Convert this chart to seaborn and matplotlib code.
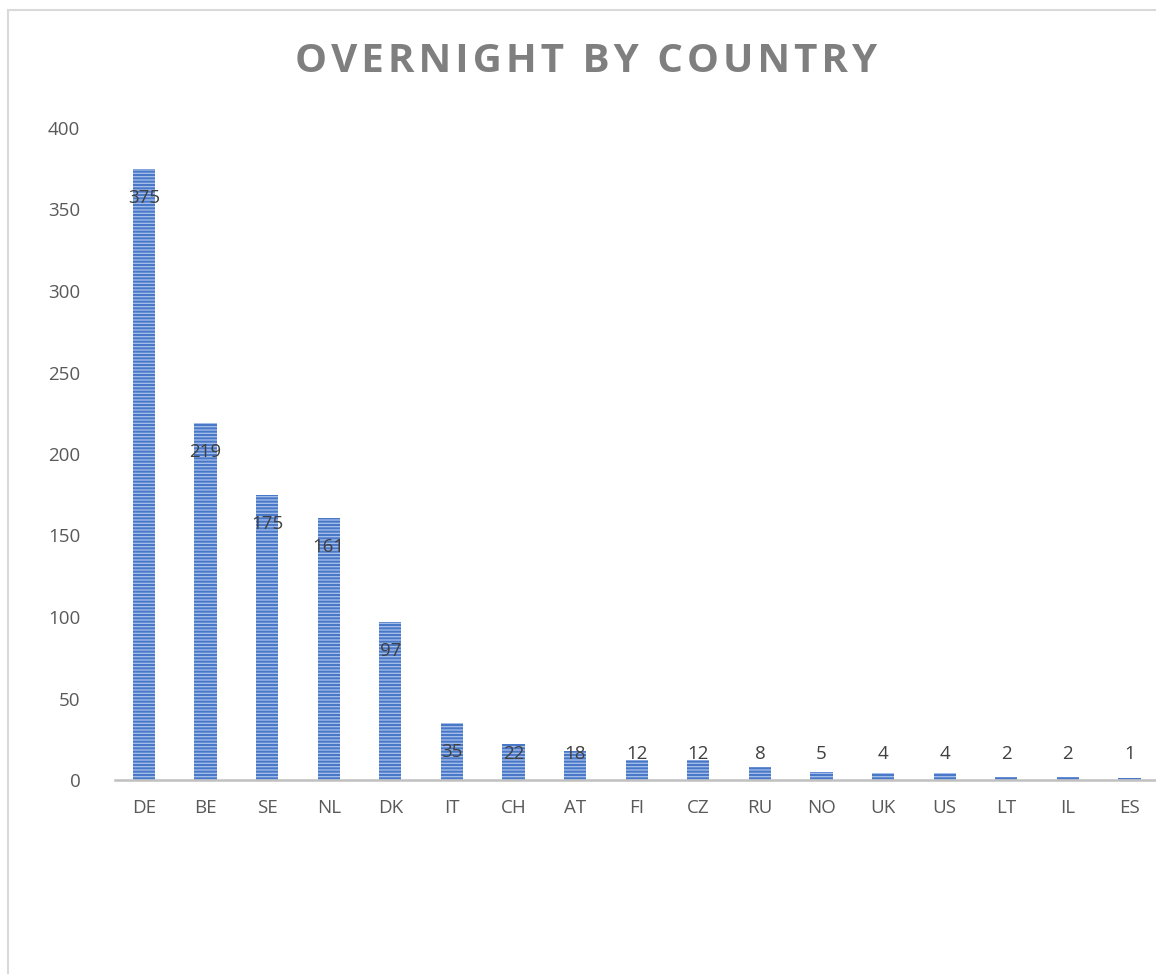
import matplotlib
matplotlib.use("Agg")
import matplotlib.pyplot as plt
import seaborn as sns
import pandas as pd
from matplotlib.patches import Rectangle

countries = ["DE", "BE", "SE", "NL", "DK", "IT", "CH", "AT", "FI", "CZ",
             "RU", "NO", "UK", "US", "LT", "IL", "ES"]
overnights = [375, 219, 175, 161, 97, 35, 22, 18, 12, 12, 8, 5, 4, 4, 2, 2, 1]
y_ticks = [0, 50, 100, 150, 200, 250, 300, 350, 400]
title = "OVERNIGHT BY COUNTRY"

df = pd.DataFrame({"country": countries, "overnight": overnights})

sns.set_style("white")
plt.rcParams["font.family"] = ["Open Sans", "DejaVu Sans"]
plt.rcParams["hatch.linewidth"] = 1.5

fig = plt.figure(figsize=(11.56, 9.74), dpi=100)
ax = fig.add_axes([115 / 1156, 1 - 780 / 974, 1 - 115 / 1156, (780 - 128) / 974])

sns.barplot(data=df, x="country", y="overnight", ax=ax, width=0.36,
            color="#a8c0ea", saturation=1)
for p in ax.patches:
    p.set_hatch("-----")
    p.set_edgecolor("#4a78c8")
    p.set_linewidth(0)

# data labels, inside end like excel
for i, v in enumerate(overnights):
    ax.text(i, max(v - 18, 16), str(v), ha="center", va="center",
            fontsize=13.5, color="#404040")

ax.set_ylim(0, 400)
ax.set_xlim(-0.47, 16.43)
ax.set_yticks(y_ticks)
ax.set_xlabel("")
ax.set_ylabel("")
ax.tick_params(axis="both", length=0, labelsize=13.5, labelcolor="#595959")
ax.tick_params(axis="y", pad=25)
ax.tick_params(axis="x", pad=14)
for s in ["top", "right", "left"]:
    ax.spines[s].set_visible(False)
ax.spines["bottom"].set_color("#c0c0c0")
ax.spines["bottom"].set_linewidth(1.8)

# spaced-out caps title
words = ["\u200a".join(w) for w in title.split(" ")]
fig.text(586 / 1156, 1 - 62 / 974, " \u2009".join(words),
         ha="center", va="center", fontsize=29, fontweight="bold", color="#7f7f7f")

fig.patches.append(Rectangle((7.5 / 1156, -0.1), 2, 1.1 - 9.5 / 974, transform=fig.transFigure,
                             fill=False, edgecolor="#d9d9d9", linewidth=1.5))

fig.savefig("out.png", dpi=100)
